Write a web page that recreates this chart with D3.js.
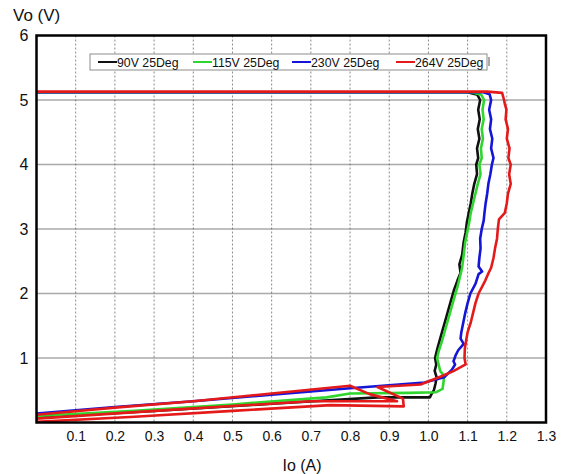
<!DOCTYPE html>
<html>
<head>
<meta charset="utf-8">
<script src="https://cdn.jsdelivr.net/npm/d3@7"></script>
<style>
  html, body { margin: 0; padding: 0; background: #fff; }
  svg { display: block; }
  text { font-family: "Liberation Sans", Arial, sans-serif; fill: #111; }
</style>
</head>
<body>
<svg id="chart" width="562" height="474"></svg>
<script>
// ---- data -----------------------------------------------------------
const xTicks = [0.1, 0.2, 0.3, 0.4, 0.5, 0.6, 0.7, 0.8, 0.9, 1.0, 1.1, 1.2, 1.3];
const yTicks = [1, 2, 3, 4, 5, 6];
const seriesNames = ["90V 25Deg", "115V 25Deg", "230V 25Deg", "264V 25Deg"];
const seriesColors = ["#111111", "#2fd62f", "#1515d8", "#e41a1a"];

// [Io (A), Vo (V)] pairs
const s90 = [[0,5.12],[0.6,5.12],[1.0,5.12],[1.10,5.12],[1.125,5.08],[1.132,5.0],[1.127,4.85],[1.131,4.7],[1.126,4.55],[1.130,4.4],[1.124,4.25],[1.127,4.1],[1.122,4.0],[1.124,3.85],[1.117,3.7],[1.112,3.55],[1.108,3.4],[1.103,3.25],[1.098,3.1],[1.095,2.95],[1.090,2.8],[1.086,2.6],[1.079,2.45],[1.082,2.32],[1.074,2.2],[1.065,2.05],[1.058,1.9],[1.051,1.75],[1.044,1.6],[1.037,1.45],[1.030,1.3],[1.023,1.15],[1.017,1.0],[1.020,0.9],[1.016,0.8],[1.021,0.7],[1.018,0.6],[1.014,0.5],[1.006,0.42],[1.004,0.39],[0.95,0.39],[0.87,0.39],[0.6,0.29],[0.3,0.18],[0,0.08]];
const s115 = [[0,5.12],[0.6,5.12],[1.0,5.12],[1.11,5.12],[1.135,5.08],[1.142,5.0],[1.138,4.85],[1.141,4.7],[1.136,4.55],[1.139,4.4],[1.134,4.25],[1.136,4.1],[1.130,4.0],[1.133,3.85],[1.126,3.7],[1.120,3.55],[1.114,3.4],[1.108,3.25],[1.104,3.1],[1.099,2.95],[1.094,2.8],[1.090,2.6],[1.086,2.4],[1.080,2.25],[1.074,2.1],[1.069,2.0],[1.062,1.85],[1.055,1.7],[1.048,1.55],[1.041,1.4],[1.034,1.25],[1.027,1.12],[1.022,1.0],[1.026,0.9],[1.030,0.8],[1.040,0.72],[1.038,0.6],[1.036,0.52],[1.02,0.47],[0.95,0.46],[0.80,0.45],[0.74,0.39],[0.5,0.28],[0.25,0.18],[0,0.10]];
const s230 = [[0,5.12],[0.6,5.12],[1.0,5.12],[1.14,5.12],[1.156,5.09],[1.160,5.0],[1.155,4.85],[1.160,4.7],[1.157,4.55],[1.163,4.4],[1.160,4.25],[1.166,4.1],[1.162,4.0],[1.158,3.85],[1.153,3.7],[1.150,3.55],[1.146,3.4],[1.143,3.25],[1.141,3.13],[1.136,3.0],[1.132,2.85],[1.133,2.7],[1.130,2.55],[1.128,2.42],[1.137,2.34],[1.128,2.3],[1.120,2.15],[1.107,2.0],[1.100,1.85],[1.094,1.7],[1.089,1.55],[1.084,1.4],[1.082,1.3],[1.090,1.22],[1.076,1.12],[1.070,1.05],[1.064,0.95],[1.068,0.9],[1.060,0.82],[1.040,0.70],[0.99,0.62],[0.80,0.53],[0.6,0.43],[0.4,0.33],[0.2,0.24],[0,0.14]];
const s264 = [[0,5.13],[0.6,5.13],[1.0,5.13],[1.15,5.13],[1.188,5.11],[1.193,5.0],[1.195,4.94],[1.199,4.85],[1.197,4.7],[1.203,4.55],[1.200,4.4],[1.207,4.25],[1.204,4.1],[1.210,4.0],[1.206,3.85],[1.210,3.7],[1.203,3.55],[1.200,3.4],[1.195,3.25],[1.180,3.15],[1.177,3.0],[1.175,2.85],[1.170,2.7],[1.166,2.55],[1.160,2.4],[1.152,2.3],[1.145,2.2],[1.128,2.0],[1.120,1.85],[1.114,1.7],[1.108,1.55],[1.100,1.4],[1.097,1.3],[1.093,1.15],[1.092,1.0],[1.095,0.9],[1.065,0.80],[1.035,0.72],[0.98,0.59],[0.87,0.55],[0.935,0.37],[0.937,0.25],[0.75,0.27],[0.5,0.18],[0.25,0.09],[0,0.01],[0,0.06],[0.35,0.20],[0.7,0.33],[0.92,0.33],[0.85,0.44],[0.80,0.57],[0.6,0.45],[0.4,0.33],[0.2,0.23],[0,0.12]];
const seriesData = [s90, s115, s230, s264];

// ---- layout ---------------------------------------------------------
const svg = d3.select("#chart");
const x = d3.scaleLinear().domain([0, 1.3]).range([36.5, 546]);
const y = d3.scaleLinear().domain([0, 6]).range([422.5, 35.5]);

// grid
svg.append("g")
  .selectAll("line.vg")
  .data(xTicks.slice(0, -1))
  .join("line")
  .attr("x1", d => x(d)).attr("x2", d => x(d))
  .attr("y1", y(6)).attr("y2", y(0))
  .attr("stroke", "#8a8a8a").attr("stroke-width", 1)
  .attr("stroke-dasharray", "2,2");

svg.append("g")
  .selectAll("line.hg")
  .data(yTicks.slice(0, -1))
  .join("line")
  .attr("x1", x(0)).attr("x2", x(1.3))
  .attr("y1", d => y(d)).attr("y2", d => y(d))
  .attr("stroke", "#555").attr("stroke-width", 1.3)
  .attr("stroke-dasharray", "1,1");

// series
const line = d3.line().x(d => x(d[0])).y(d => y(d[1]));
const clipId = "plotclip";
svg.append("clipPath").attr("id", clipId)
  .append("rect")
  .attr("x", x(0)).attr("y", y(6))
  .attr("width", x(1.3) - x(0)).attr("height", y(0) - y(6));

svg.append("g").attr("clip-path", `url(#${clipId})`)
  .selectAll("path")
  .data(seriesData)
  .join("path")
  .attr("d", line)
  .attr("fill", "none")
  .attr("stroke", (d, i) => seriesColors[i])
  .attr("stroke-width", 2.6)
  .attr("stroke-linejoin", "round");

// frame
svg.append("rect")
  .attr("x", x(0)).attr("y", y(6))
  .attr("width", x(1.3) - x(0)).attr("height", y(0) - y(6))
  .attr("fill", "none").attr("stroke", "#000").attr("stroke-width", 2.5);

// axes
const xAxis = svg.append("g")
  .attr("transform", `translate(0,${y(0)})`)
  .call(d3.axisBottom(x).tickValues(xTicks).tickFormat(d3.format(".1f")).tickSize(0).tickPadding(9));
xAxis.select(".domain").remove();
xAxis.selectAll("text").attr("font-size", 14).attr("font-family", "Liberation Sans, Arial, sans-serif").attr("fill", "#111");

const yAxis = svg.append("g")
  .attr("transform", `translate(${x(0)},0)`)
  .call(d3.axisLeft(y).tickValues(yTicks).tickFormat(d3.format("d")).tickSize(0).tickPadding(8));
yAxis.select(".domain").remove();
yAxis.selectAll("text").attr("font-size", 16).attr("font-family", "Liberation Sans, Arial, sans-serif").attr("fill", "#111");

// axis titles
svg.append("text").attr("x", 13).attr("y", 21).attr("font-size", 17).text("Vo (V)");
svg.append("text").attr("x", 302).attr("y", 471).attr("text-anchor", "middle").attr("font-size", 16).text("Io (A)");

// legend
const lg = svg.append("g");
lg.append("rect").attr("x", 90).attr("y", 54).attr("width", 397).attr("height", 16)
  .attr("fill", "#fff").attr("stroke", "#8c8c8c").attr("stroke-width", 1);
lg.append("line").attr("x1", 489).attr("x2", 489).attr("y1", 57).attr("y2", 66)
  .attr("stroke", "#555").attr("stroke-width", 1);
const legendX = [98, 193, 292, 396];
const items = lg.selectAll("g.item").data(seriesNames).join("g")
  .attr("transform", (d, i) => `translate(${legendX[i]},62)`);
items.append("line").attr("x1", 0).attr("x2", 19).attr("y1", 0).attr("y2", 0)
  .attr("stroke", (d, i) => seriesColors[i]).attr("stroke-width", 2);
items.append("text").attr("x", 19).attr("y", 4.5).attr("font-size", 12.3).text(d => d);
</script>
</body>
</html>
